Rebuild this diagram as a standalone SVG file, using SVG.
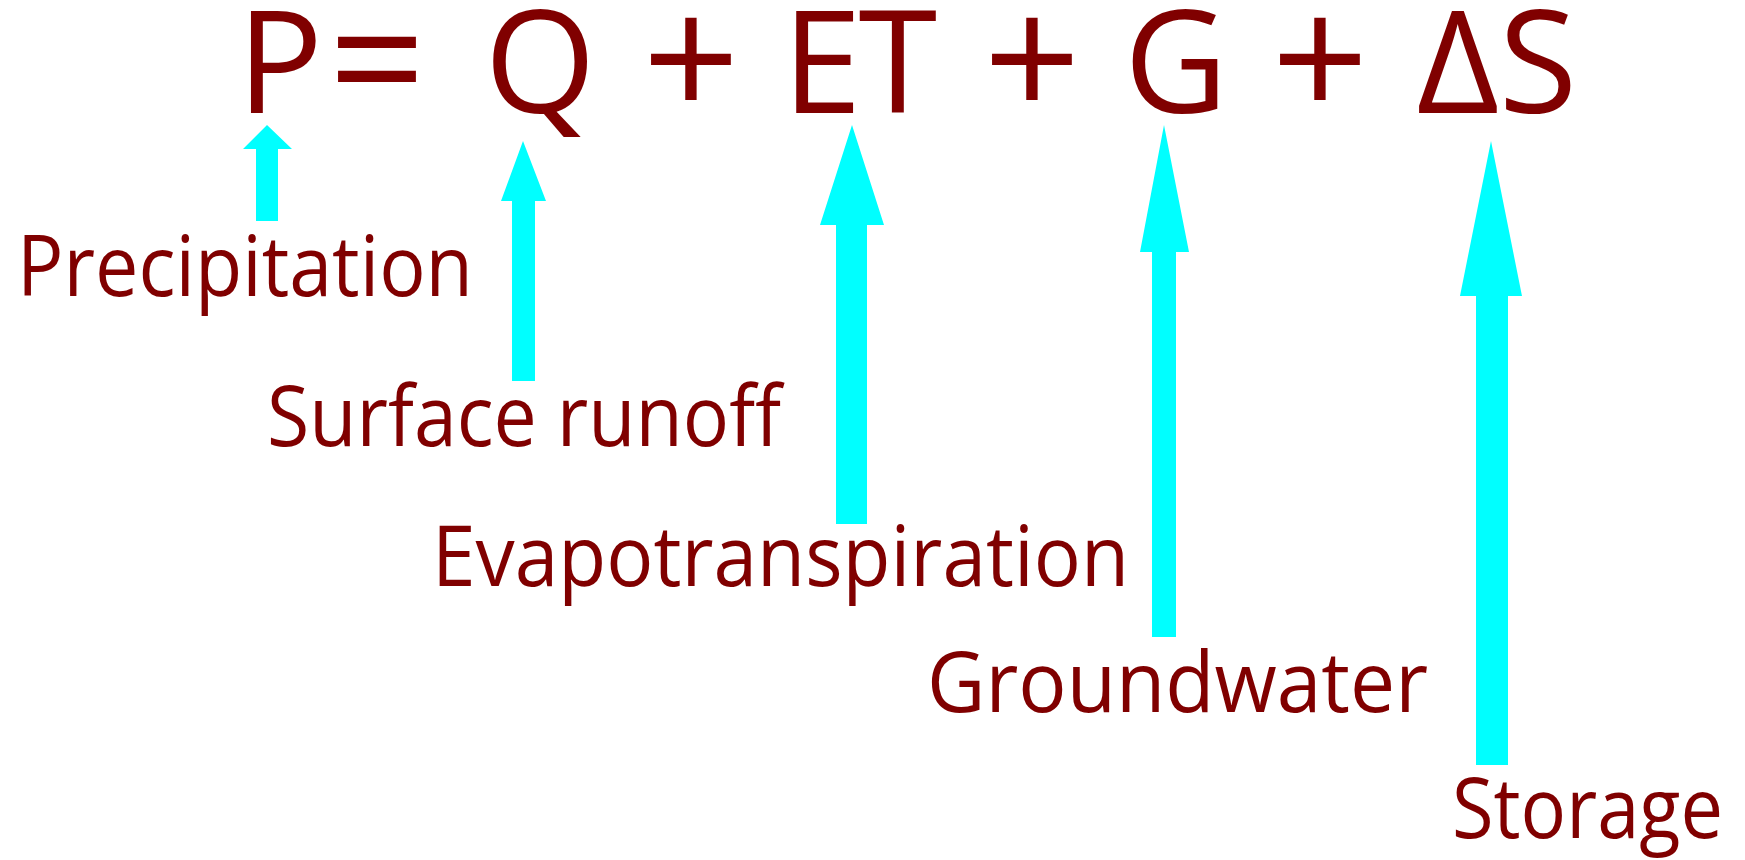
<svg xmlns="http://www.w3.org/2000/svg" width="1745" height="860" viewBox="0 0 1745 860">
<style>
.eq{font-family:"Open Sans","Lato","DejaVu Sans",sans-serif;font-size:143px;fill:#800000;text-anchor:middle}
.op{font-size:170px}
.lbl{font-family:"Open Sans","Lato","DejaVu Sans",sans-serif;font-size:84px;fill:#800000}
.arrow{fill:#00FFFF;stroke:none}
</style>
<rect width="1745" height="860" fill="#FFFFFF"/>
<g id="equation">
<text class="eq" x="280" y="113">P</text>
<text class="eq op" x="377" y="119">=</text>
<text class="eq" x="540" y="113">Q</text>
<text class="eq op" x="691" y="119">+</text>
<text class="eq" x="822" y="113">E</text>
<text class="eq" x="898" y="113">T</text>
<text class="eq op" x="1032" y="119">+</text>
<text class="eq" x="1176" y="113">G</text>
<text class="eq op" x="1320" y="119">+</text>
<text class="eq" x="1458" y="113">Δ</text>
<text class="eq" x="1538" y="113">S</text>
</g>
<g id="precipitation"><text class="lbl" x="17" y="296" textLength="456" lengthAdjust="spacingAndGlyphs">Precipitation</text></g>
<g id="surface-runoff"><text class="lbl" x="267" y="446" textLength="514" lengthAdjust="spacingAndGlyphs">Surface runoff</text></g>
<g id="evapotranspiration"><text class="lbl" x="432" y="586" textLength="697" lengthAdjust="spacingAndGlyphs">Evapotranspiration</text></g>
<g id="groundwater"><text class="lbl" x="927" y="712" textLength="501" lengthAdjust="spacingAndGlyphs">Groundwater</text></g>
<g id="storage"><text class="lbl" x="1452" y="838" textLength="271" lengthAdjust="spacingAndGlyphs">Storage</text></g>
<g id="connectors">
<polygon class="arrow" points="267,125 292,149 278,149 278,221 256,221 256,149 243,149"/>
<polygon class="arrow" points="523,141 546,201 535,201 535,381 512,381 512,201 501,201"/>
<polygon class="arrow" points="852,125 884,225 867,225 867,524 836,524 836,225 820,225"/>
<polygon class="arrow" points="1164,125 1189,252 1176,252 1176,637 1152,637 1152,252 1140,252"/>
<polygon class="arrow" points="1491,141 1522,296 1508,296 1508,765 1476,765 1476,296 1460,296"/>
</g>
</svg>
